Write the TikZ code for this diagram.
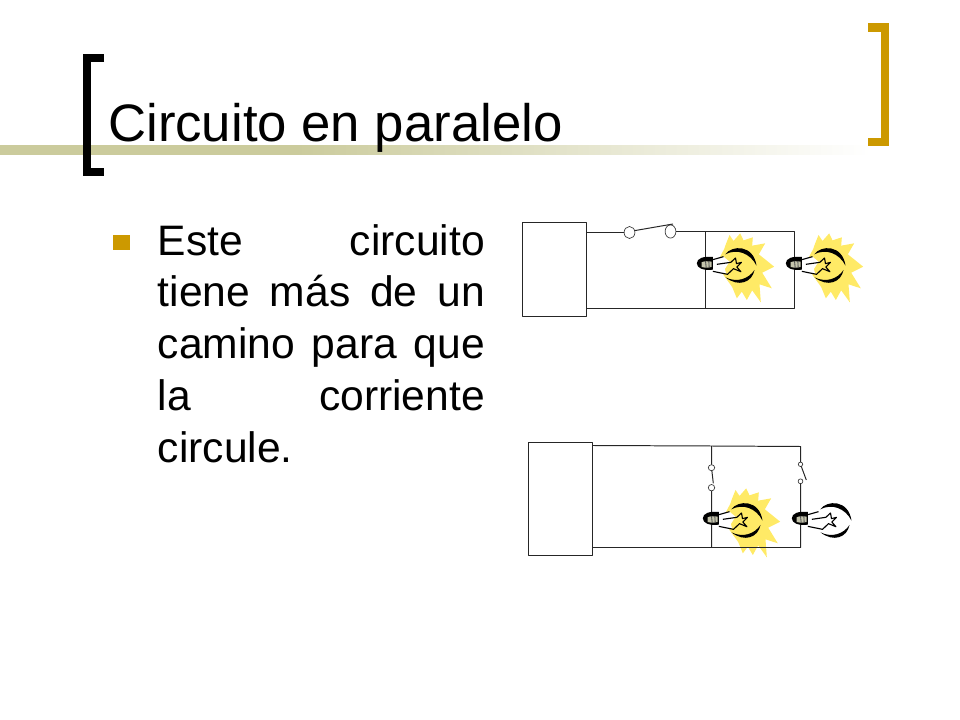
\documentclass[tikz,border=0pt]{standalone}
\usepackage{fontspec}
\setmainfont{Liberation Sans}
\usetikzlibrary{positioning,calc,shapes.geometric}
\definecolor{bargreen}{HTML}{CBCB9C}
\definecolor{gold}{HTML}{CC9900}
\definecolor{glow}{HTML}{FFEA66}
\definecolor{socket}{HTML}{C4C4AC}
\pgfdeclarehorizontalshading{barfade}{100bp}{color(0bp)=(bargreen); color(42bp)=(bargreen); color(75bp)=(white); color(100bp)=(white)}
\newcommand{\spreadline}[1]{\leavevmode\hbox to 8.175cm{#1}}
\tikzset{
 wire/.style={line width=0.7pt,black!85},
 bracket/.style={line width=5.7pt,line cap=butt,line join=miter},
 source/.style={draw=black!85,line width=0.7pt,minimum width=1.6cm,minimum height=2.35cm,inner sep=0pt,outer sep=0pt},
 contact/.style={ellipse,draw=black!75,line width=0.5pt,fill=white,inner sep=0pt,outer sep=0pt},
 lamp/.pic={
  \begin{scope}[x=0.025cm/3,y=-0.025cm/3,shift={(-46,-111)}]
  \fill[white] (66,100)--(100,95)--(118,110)--(104,132)--(108,146)--(66,140)--cycle;
  \fill[black] (105,88) .. controls (125,60) and (190,58) .. (199,122) .. controls (180,84) and (140,70) .. cycle;
  \fill[black] (193,135) .. controls (186,172) and (145,188) .. (106,157) .. controls (140,174) and (175,162) .. cycle;
  \draw[line width=0.8pt] (68,104)--(100,95) (80,118)--(122,112)--(136,99)--(139,116)--(154,112)--(140,126)--(152,140)--(130,131)--(112,148)--(68,139);
  \fill[black] (20,115) .. controls (20,100) and (40,93) .. (68,96) -- (68,134) .. controls (40,137) and (20,130) .. cycle;
  \fill[socket] (34,112) .. controls (42,108) and (55,108) .. (64,110) -- (64,126) .. controls (50,129) and (42,129) .. (34,126) -- cycle;
  \draw[black!70,line width=0.6pt] (46,108)--(48,128) (56,108)--(57,128);
  \end{scope}
 },
 rays/.pic={
  \begin{scope}[x=0.025cm/3,y=-0.025cm/3,shift={(-46,-111)}]
  \fill[glow] (118,30)--(130,48)--(150,25)--(160,46)--(188,37)--(186,62)--(225,55)--(206,88)--(252,125)--(216,143)--(245,190)--(208,178)--(212,232)--(186,196)--(170,225)--(155,200)--(140,220)--(126,186)--(100,150)--(90,95)--(102,72)--(108,55)--cycle;
  \end{scope}
 }
}
\begin{document}
\begin{tikzpicture}[x=0.025cm,y=-0.025cm,line join=round]
\useasboundingbox (0,0) rectangle (960,720);
% barra y corchetes
\path[shading=barfade] (0,146) rectangle (870,154.5);
\draw[bracket] (104,57.8)--(87,57.8)--(87,172.2)--(104,172.2);
\draw[bracket,gold] (868,27.5)--(884.5,27.5)--(884.5,141.8)--(868,141.8);
% textos
\node[anchor=base west,inner sep=0pt,font=\fontsize{37.5pt}{37.5pt}\selectfont] (title) at (108,142) {Circuito en paralelo};
\node[fill=gold,minimum width=0.425cm,minimum height=0.375cm,inner sep=0pt] (mark) at (121.5,242.5) {};
\node[anchor=north west,inner sep=0pt,text width=8.175cm,align=left,font=\fontsize{30.3pt}{36.8pt}\selectfont] (body) at (157.5,224)
 {\spreadline{Este\hfill circuito}\\
  \spreadline{tiene\hfill más\hfill de\hfill un}\\
  \spreadline{camino\hfill para\hfill que}\\
  \spreadline{la\hfill corriente}\\
  circule.};
% circuito de arriba
\node[source,anchor=north west] (srcA) at (522.5,222.5) {};
\node[contact,minimum width=0.27cm,minimum height=0.3cm] (swA) at (629.5,232.5) {};
\node[contact,minimum width=0.27cm,minimum height=0.33cm] (swB) at (670.5,231.5) {};
\coordinate (a1) at (705.5,231.5);
\coordinate (a2) at (794.5,231.5);
\coordinate (a3) at (794.5,308.5);
\coordinate (a4) at (705.5,308.5);
\coordinate (a5) at (586.5,308.5);
\coordinate (a6) at (586.5,232.5);
\coordinate (a7) at (673,224);
\pic at (705.5,262) {rays};
\pic at (794.5,262) {rays};
\draw[wire] (a6)--(swA) (swB)--(a2)--(a3)--(a5) (a1)--(a4);
\draw[wire] (swA.20)--(a7);
\pic at (705.5,262) {lamp};
\pic at (794.5,262) {lamp};
% circuito de abajo
\node[source,anchor=north west,minimum height=2.825cm] (srcB) at (528.5,442.5) {};
\node[contact,minimum width=0.16cm,minimum height=0.15cm] (swC) at (711.5,467.7) {};
\node[contact,minimum width=0.16cm,minimum height=0.16cm] (swD) at (711.5,487.7) {};
\node[contact,minimum width=0.11cm,minimum height=0.11cm] (swE) at (800.5,464.3) {};
\node[contact,minimum width=0.12cm,minimum height=0.12cm] (swF) at (800.5,481.3) {};
\coordinate (b1) at (711.5,446);
\coordinate (b2) at (800.5,446.5);
\coordinate (b3) at (800.5,547.5);
\coordinate (b4) at (711.5,547.5);
\coordinate (b5) at (592.5,547.5);
\coordinate (b6) at (592.5,445.5);
\coordinate (b7) at (806.3,480);
\coordinate (b8) at (713.3,483.3);
\pic at (711.5,517) {rays};
\draw[wire] (b6)--(b1)--(b2)--(swE) (swF)--(b3)--(b5) (b1)--(swC) (swD)--(b4);
\draw[wire] (swC)--(b8) (swE)--(b7);
\pic at (711.5,517) {lamp};
\pic at (800.5,517) {lamp};
\end{tikzpicture}
\end{document}
